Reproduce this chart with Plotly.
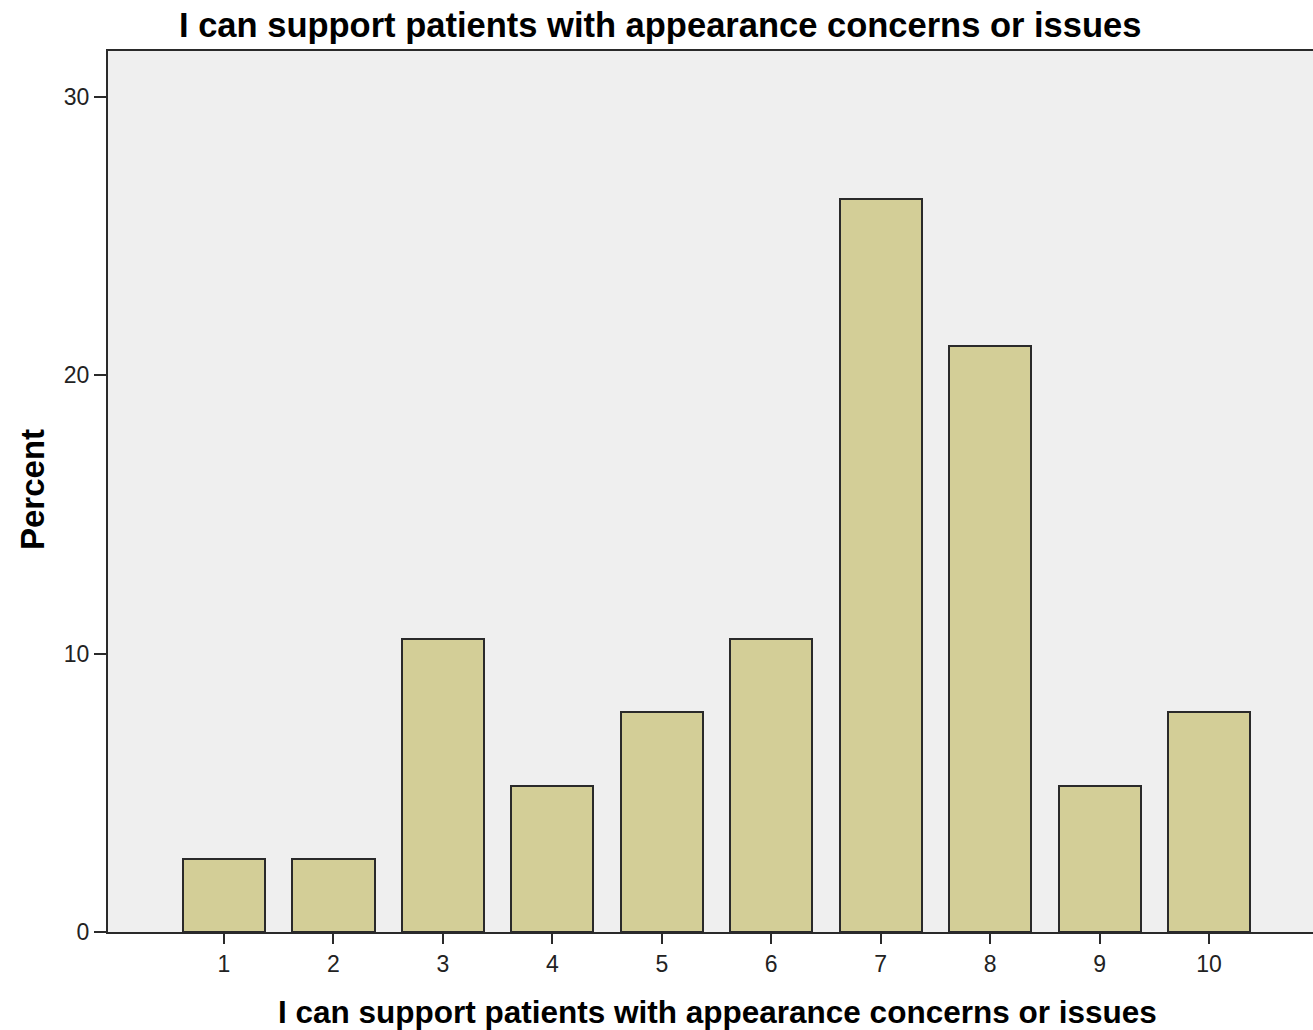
import plotly.graph_objects as go

categories = [1, 2, 3, 4, 5, 6, 7, 8, 9, 10]
percent = [2.63, 2.63, 10.53, 5.26, 7.89, 10.53, 26.32, 21.05, 5.26, 7.89]
y_ticks = [0, 10, 20, 30]
title_text = "I can support patients with appearance concerns or issues"

fig = go.Figure()
fig.add_trace(go.Bar(
    x=categories, y=percent, width=0.75,
    marker=dict(color="#d3ce97", line=dict(color="#2a2a2a", width=2)),
))

fig.update_layout(
    width=1313, height=1030,
    margin=dict(l=108, r=0, t=51, b=98),
    paper_bgcolor="white", plot_bgcolor="#efefef",
    showlegend=False,
    font=dict(family="Liberation Sans, Arial, sans-serif", color="black"),
    bargap=0,
)
fig.update_xaxes(
    range=[-0.06, 10.95], tickvals=categories, ticktext=[str(c) for c in categories],
    showgrid=False, zeroline=False, showline=True, linecolor="#2a2a2a", linewidth=2,
    mirror=True, ticks="outside", ticklen=10, tickwidth=2, tickcolor="#2a2a2a",
    tickfont=dict(size=23, family="Liberation Sans, Arial, sans-serif", color="#222"),
)
fig.update_yaxes(
    range=[0, 31.65], tickvals=y_ticks,
    showgrid=False, zeroline=False, showline=True, linecolor="#2a2a2a", linewidth=2,
    ticks="outside", ticklen=12, tickwidth=2, tickcolor="#2a2a2a",
    tickfont=dict(size=23, family="Liberation Sans, Arial, sans-serif", color="#222"),
)
fig.add_annotation(text="<b>" + title_text + "</b>", xref="paper", yref="paper",
                   x=(659.5 - 108) / 1205, y=1, yanchor="middle", yshift=26, showarrow=False,
                   font=dict(size=34.5, family="Liberation Sans, Arial, sans-serif"))
fig.add_annotation(text="<b>" + title_text + "</b>", xref="paper", yref="paper",
                   x=(717.5 - 108) / 1205, y=0, yanchor="middle", yshift=-80, showarrow=False,
                   font=dict(size=31.5, family="Liberation Sans, Arial, sans-serif"))
fig.add_annotation(text="<b>Percent</b>", xref="paper", yref="paper",
                   x=0, xanchor="center", xshift=-75, y=(932 - 490) / 881, showarrow=False,
                   textangle=-90,
                   font=dict(size=33, family="Liberation Sans, Arial, sans-serif"))

fig.write_html(
    "out.html",
    config={"displayModeBar": False},
    post_script="document.body.style.margin='0';document.body.style.overflow='hidden';",
)
